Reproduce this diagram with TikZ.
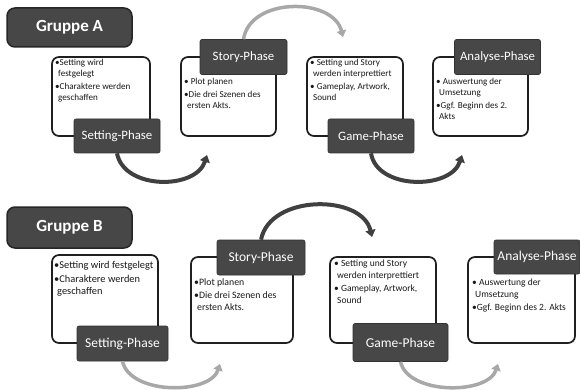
\documentclass[tikz,border=0pt]{standalone}
\usepackage{fontspec}
\setmainfont{Carlito}
\usetikzlibrary{arrows.meta}
\definecolor{dk}{HTML}{474747}
\definecolor{lg}{HTML}{A8A8A8}
\definecolor{ar}{HTML}{404040}
\newcommand{\ci}{\hspace*{3pt}}
\tikzset{
 wbox/.style={draw=black!88, line width=1.7pt, rounded corners=7pt, fill=white, inner sep=0pt},
 lab/.style={fill=dk, draw=dk!70!black, line width=0.6pt, rounded corners=2pt, text=white, font=\fontsize{12.8}{14}\selectfont, inner sep=0pt},
 labb/.style={lab, font=\fontsize{13.5}{15}\selectfont},
 grp/.style={fill=dk, draw=black!85, line width=1.5pt, rounded corners=8pt, text=white, font=\bfseries\fontsize{17}{19}\selectfont, inner sep=0pt},
 txt/.style={anchor=north west, inner sep=0pt, align=left, font=\fontsize{9.1}{11}\selectfont, text=black!90},
 txtb/.style={txt, font=\fontsize{9.5}{11.5}\selectfont},
 txtc/.style={txt, font=\fontsize{10.4}{12}\selectfont},
 darr/.style={draw=ar, line width=4pt, -{Triangle[width=10pt,length=7pt]}},
 larr/.style={draw=lg, line width=3.5pt, -{Triangle[width=9.5pt,length=6.5pt]}},
}
\begin{document}
\begin{tikzpicture}[x=1pt,y=-1pt]
\useasboundingbox (0,0) rectangle (580,390);
% ---------- Gruppe A ----------
\node[grp, minimum width=125pt, minimum height=39pt] (gA) at (69.5,27.5) {Gruppe A};
\node[wbox, minimum width=98pt, minimum height=79pt] (As) at (101,96.5) {};
\node[wbox, minimum width=95pt, minimum height=79pt] (At) at (228.5,96.5) {};
\node[wbox, minimum width=96pt, minimum height=79pt] (Ag) at (355,96.5) {};
\node[wbox, minimum width=95pt, minimum height=79pt] (Aa) at (480.5,96.5) {};
\node[txt] (Ast) at (55,59) {•Setting wird\\\ci festgelegt\\[2pt]•Charaktere werden\\\ci geschaffen};
\node[txt] (Att) at (184,78) {• Plot planen\\[2pt]•Die drei Szenen des\\\ci ersten Akts.};
\node[txt] (Agt) at (310,59) {• Setting und Story\\\ci werden interprettiert\\[2pt]• Gameplay, Artwork,\\\ci Sound};
\node[txt] (Aat) at (436,78) {• Auswertung der\\\ci Umsetzung\\[2pt]•Ggf. Beginn des 2.\\\ci Akts};
\node[lab, minimum width=86pt, minimum height=34pt] (Asl) at (117,136) {Setting-Phase};
\node[lab, minimum width=87pt, minimum height=35pt] (Atl) at (243.5,57) {Story-Phase};
\node[lab, minimum width=86pt, minimum height=34pt] (Agl) at (371,136) {Game-Phase};
\node[lab, minimum width=86pt, minimum height=35pt] (Aal) at (497.5,57) {Analyse-Phase};
\coordinate (A1e) at (207,155);
\coordinate (A2e) at (343,37);
\coordinate (A3e) at (462,155);
\draw[darr] (Asl.south) .. controls (124,190) and (196,190) .. (A1e);
\draw[larr] (Atl.north) .. controls (250,-3) and (333,-3) .. (A2e);
\draw[darr] (Agl.south) .. controls (377,190) and (451,190) .. (A3e);
% ---------- Gruppe B ----------
\node[grp, minimum width=125pt, minimum height=41pt] (gB) at (69.5,227.5) {Gruppe B};
\node[wbox, minimum width=106pt, minimum height=88pt] (Bs) at (105,299) {};
\node[wbox, minimum width=102pt, minimum height=86pt] (Bt) at (242,300) {};
\node[wbox, minimum width=106pt, minimum height=86pt] (Bg) at (383,300) {};
\node[wbox, minimum width=107pt, minimum height=86pt] (Ba) at (521.5,300) {};
\node[txtc] (Bst) at (54,261) {•Setting wird festgelegt\\[2pt]•Charaktere werden\\\ci geschaffen};
\node[txtb, font=\fontsize{9.8}{11.5}\selectfont] (Btt) at (194,278) {•Plot planen\\[2pt]•Die drei Szenen des\\\ci ersten Akts.};
\node[txtb] (Bgt) at (334,260) {• Setting und Story\\\ci werden interprettiert\\[2pt]• Gameplay, Artwork,\\\ci Sound};
\node[txtb] (Bat) at (472,279) {• Auswertung der\\\ci Umsetzung\\[2pt]•Ggf. Beginn des 2. Akts};
\node[labb, minimum width=91pt, minimum height=35pt] (Bsl) at (122.5,343.5) {Setting-Phase};
\node[labb, minimum width=88pt, minimum height=35pt] (Btl) at (261,257.5) {Story-Phase};
\node[labb, minimum width=95pt, minimum height=38pt] (Bgl) at (400.5,342.5) {Game-Phase};
\node[labb, minimum width=86pt, minimum height=34pt] (Bal) at (537,257) {Analyse-Phase};
\coordinate (B1e) at (220,364);
\coordinate (B2e) at (372,237);
\coordinate (B3e) at (498,364);
\draw[larr] (Bsl.south) .. controls (130,395) and (210,395) .. (B1e);
\draw[darr] (Btl.north) .. controls (270,194) and (362,194) .. (B2e);
\draw[larr] (Bgl.south) .. controls (408,395) and (488,395) .. (B3e);
\end{tikzpicture}
\end{document}
